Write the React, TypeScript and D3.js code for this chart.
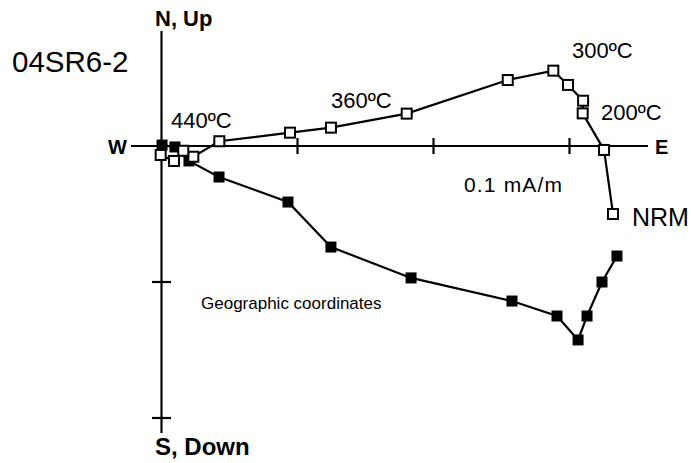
import React from "react";
import * as d3 from "d3";

// Horizontal projection (open squares): East vs North, mA/m, NRM first
const horizE = [0.332, 0.3254, 0.3097, 0.310, 0.2989, 0.2881, 0.2546, 0.1803, 0.1246, 0.0945, 0.0425, 0.0234, 0.016, 0.0092, -0.0006];
const horizN = [-0.050, -0.0029, 0.024, 0.0333, 0.0449, 0.0554, 0.0485, 0.0238, 0.0135, 0.0098, 0.0035, -0.0079, -0.0035, -0.011, -0.0066];

// Vertical projection (filled squares): East vs Up, mA/m, NRM first
const vertE = [0.3349, 0.3239, 0.3129, 0.3063, 0.2908, 0.2577, 0.1835, 0.1246, 0.093, 0.0423, 0.0202, 0.0099, 0.0004];
const vertUp = [-0.0809, -0.100, -0.125, -0.1426, -0.125, -0.114, -0.097, -0.0743, -0.0412, -0.0228, -0.011, -0.0007, 0.0007];

const xTicks = [0.1, 0.2, 0.3];
const yTicks = [-0.1, -0.2];

const stepLabels = ["NRM", "200ºC", "300ºC", "360ºC", "440ºC"];

export default function App() {
  const W = 691, H = 463;
  const x = d3.scaleLinear().domain([0, 0.1]).range([161.5, 297.5]);
  const y = d3.scaleLinear().domain([0, -0.1]).range([146, 282]);
  const font = "'Liberation Sans', Arial, Helvetica, sans-serif";

  const hPts = horizE.map((e, i) => [x(e), y(horizN[i])] as [number, number]);
  const vPts = vertE.map((e, i) => [x(e), y(vertUp[i])] as [number, number]);
  const line = d3.line();

  const xMin = x.invert(131), xMax = x.invert(648);
  const yMax = y.invert(31), yMin = y.invert(433);

  return (
    <svg width={W} height={H} style={{ position: "absolute", left: 0, top: 0, background: "#fff" }}>
      <rect x={0} y={0} width={W} height={H} fill="#fff" />
      {/* axes */}
      <line x1={x(xMin)} x2={x(xMax)} y1={y(0)} y2={y(0)} stroke="#000" strokeWidth={2.2} />
      <line x1={x(0)} x2={x(0)} y1={y(yMax)} y2={y(yMin)} stroke="#000" strokeWidth={2.2} />
      {xTicks.map((t) => (
        <line key={"xt" + t} x1={x(t)} x2={x(t)} y1={y(0) - 8} y2={y(0) + 8} stroke="#000" strokeWidth={2.2} />
      ))}
      {yTicks.map((t) => (
        <line key={"yt" + t} x1={x(0) - 9.5} x2={x(0) + 9.5} y1={y(t)} y2={y(t)} stroke="#000" strokeWidth={2.2} />
      ))}

      {/* vertical projection */}
      <path d={line(vPts) || ""} fill="none" stroke="#000" strokeWidth={2.2} />
      {vPts.map((p, i) => (
        <rect key={"v" + i} x={p[0] - 5.5} y={p[1] - 5.5} width={11} height={11} fill="#000" />
      ))}

      {/* horizontal projection */}
      <path d={line(hPts) || ""} fill="none" stroke="#000" strokeWidth={2.2} />
      {hPts.map((p, i) => (
        <rect key={"h" + i} x={p[0] - 5} y={p[1] - 5} width={10} height={10} fill="#fff" stroke="#000" strokeWidth={2} />
      ))}

      {/* axis labels */}
      <g fontFamily={font} fontWeight="bold" fill="#000">
        <text x={155} y={26} fontSize={22}>N, Up</text>
        <text x={155} y={455} fontSize={24}>S, Down</text>
        <text x={108} y={154} fontSize={20}>W</text>
        <text x={655} y={154} fontSize={20}>E</text>
      </g>

      <g fontFamily={font} fill="#000">
        <text x={12} y={72} fontSize={29.5}>04SR6-2</text>
        <text x={632} y={226} fontSize={25}>{stepLabels[0]}</text>
        <text x={601} y={120} fontSize={22}>{stepLabels[1]}</text>
        <text x={572} y={58} fontSize={22}>{stepLabels[2]}</text>
        <text x={331} y={108} fontSize={22}>{stepLabels[3]}</text>
        <text x={171} y={128} fontSize={22}>{stepLabels[4]}</text>
        <text x={464} y={192} fontSize={21} textLength={98} lengthAdjust="spacing">0.1 mA/m</text>
        <text x={201} y={309} fontSize={17}>Geographic coordinates</text>
      </g>
    </svg>
  );
}
